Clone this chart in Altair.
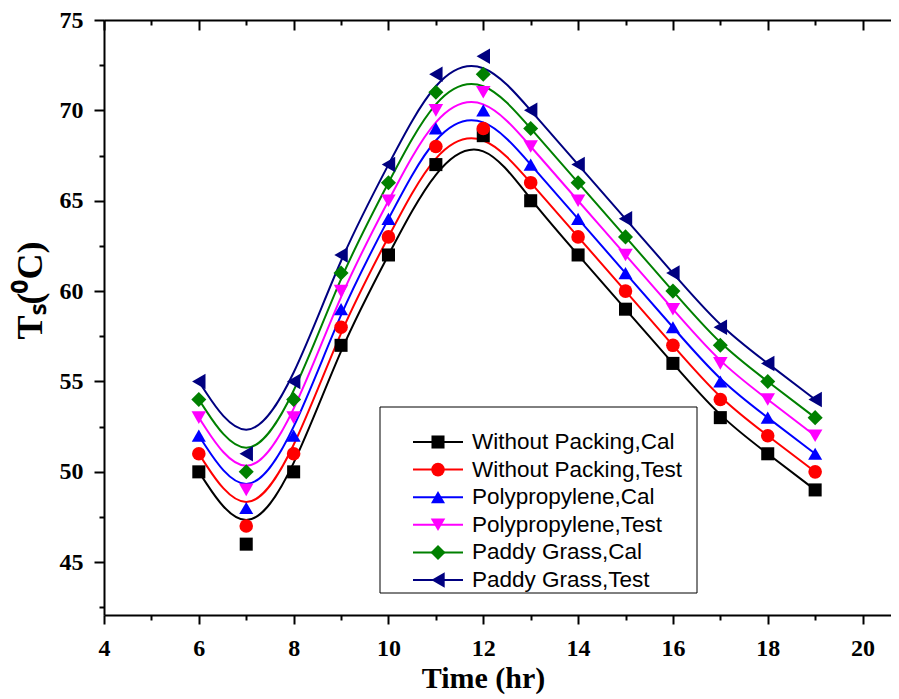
import altair as alt
import pandas as pd

# ---------------- data ----------------
hours = [6, 7, 8, 9, 10, 11, 12, 13, 14, 15, 16, 17, 18, 19]
series_names = [
    "Without Packing,Cal",
    "Without Packing,Test",
    "\u00a0Polypropylene,Cal",
    "Polypropylene,Test",
    "Paddy Grass,Cal",
    "Paddy Grass,Test",
]
wp_cal = [50, 46, 50, 57, 62, 67, 68.6, 65, 62, 59, 56, 53, 51, 49]
wp_test = [51, 47, 51, 58, 63, 68, 69, 66, 63, 60, 57, 54, 52, 50]
pp_cal = [52, 48, 52, 59, 64, 69, 70, 67, 64, 61, 58, 55, 53, 51]
pp_test = [53, 49, 53, 60, 65, 70, 71, 68, 65, 62, 59, 56, 54, 52]
pg_cal = [54, 50, 54, 61, 66, 71, 72, 69, 66, 63, 60, 57, 55, 53]
pg_test = [55, 51, 55, 62, 67, 72, 73, 70, 67, 64, 61, 58, 56, 54]
all_values = [wp_cal, wp_test, pp_cal, pp_test, pg_cal, pg_test]

x_major = [4, 6, 8, 10, 12, 14, 16, 18, 20]
x_minor = [5, 7, 9, 11, 13, 15, 17, 19]
y_major = [45, 50, 55, 60, 65, 70, 75]
y_minor = [42.5, 47.5, 52.5, 57.5, 62.5, 67.5, 72.5]

# ---------------- styling ----------------
colors = ["#000000", "#FF0000", "#0000FF", "#FF00FF", "#008000", "#000080"]
shapes = ["square", "circle", "triangle-up", "triangle-down", "diamond", "triangle-left"]
marker_sizes = [170, 240, 240, 240, 240, 240]

rows = []
for name, vals in zip(series_names, all_values):
    for h, v in zip(hours, vals):
        rows.append({"series": name, "time": h, "temp": v})
df = pd.DataFrame(rows)
legend_df = pd.DataFrame({"series": series_names})
box_df = pd.DataFrame({"box": [0]})

serif = "Liberation Serif"
xs = alt.Scale(domain=[4, 20.6], nice=False, zero=False)
ys = alt.Scale(domain=[42.08, 75], nice=False, zero=False)
color_scale = alt.Scale(domain=series_names, range=colors)
shape_scale = alt.Scale(domain=series_names, range=shapes)
size_scale = alt.Scale(domain=series_names, range=marker_sizes)
# legend rows placed by a point scale (pixel range inside the plot area)
leg_y = alt.Scale(type="point", domain=series_names, range=[422, 560], padding=0)

base_axis = dict(grid=False, domainColor="black", tickColor="black",
                 domainWidth=2, tickWidth=2, labelColor="black", titleColor="black")
minor_axis = dict(grid=False, tickColor="black", tickWidth=2, labels=False,
                  domain=False, title=None)

x_main = alt.Axis(orient="bottom", values=x_major, tickSize=9, format="d",
                  labelFont=serif, labelFontSize=24, labelFontWeight="bold",
                  labelPadding=12, labelFlush=False, labelOverlap=False,
                  title="Time (hr)", titleFont=serif, titleFontSize=30,
                  titleFontWeight="bold", titleX=379, titleY=48, **base_axis)
x_min = alt.Axis(orient="bottom", values=x_minor, tickSize=5, **minor_axis)
x_top_line = alt.Axis(orient="top", ticks=False, labels=False, domain=True,
                      title=None, grid=False, domainColor="black", domainWidth=2)
x_top_major = alt.Axis(orient="top", values=x_major, tickSize=10, offset=-10, **minor_axis)
x_top_minor = alt.Axis(orient="top", values=x_minor, tickSize=5, offset=-5, **minor_axis)

y_main = alt.Axis(orient="left", values=y_major, tickSize=10, format="d",
                  labelFont=serif, labelFontSize=24, labelFontWeight="bold",
                  labelPadding=11, labelFlush=False, labelOverlap=False,
                  title="Tₛ(⁰C)", titleFont=serif, titleFontSize=36,
                  titleFontWeight="bold", titleX=-55, titleY=270, **base_axis)
y_min = alt.Axis(orient="left", values=y_minor, tickSize=5, **minor_axis)

lines = alt.Chart(df).mark_line(interpolate="basis", strokeWidth=2).encode(
    x=alt.X("time:Q", scale=xs, axis=x_main),
    y=alt.Y("temp:Q", scale=ys, axis=y_main),
    color=alt.Color("series:N", scale=color_scale, legend=None),
    detail="series:N",
    order="time:Q",
)

points = alt.Chart(df).mark_point(filled=True, opacity=1).encode(
    x=alt.X("time:Q", scale=xs, axis=x_min),
    y=alt.Y("temp:Q", scale=ys, axis=y_min),
    color=alt.Color("series:N", scale=color_scale, legend=None),
    shape=alt.Shape("series:N", scale=shape_scale, legend=None),
    size=alt.Size("series:N", scale=size_scale, legend=None),
)

# ---------------- legend (box, line, marker, label) ----------------
leg_box = alt.Chart(box_df).mark_rect(fill="white", stroke="black", strokeWidth=1).encode(
    x=alt.value(276), x2=alt.value(593), y=alt.value(387), y2=alt.value(573),
)
leg_lines = alt.Chart(legend_df).mark_rule(strokeWidth=2).encode(
    x=alt.value(309), x2=alt.value(359),
    y=alt.Y("series:N", scale=leg_y, axis=None),
    color=alt.Color("series:N", scale=color_scale, legend=None),
)
leg_marks = alt.Chart(legend_df).mark_point(filled=True, opacity=1).encode(
    x=alt.value(334),
    y=alt.Y("series:N", scale=leg_y, axis=None),
    color=alt.Color("series:N", scale=color_scale, legend=None),
    shape=alt.Shape("series:N", scale=shape_scale, legend=None),
    size=alt.Size("series:N", scale=size_scale, legend=None),
)
leg_text = alt.Chart(legend_df).mark_text(
    align="left", baseline="middle", font="Liberation Sans", fontSize=22.5, color="black"
).encode(
    x=alt.value(368),
    y=alt.Y("series:N", scale=leg_y, axis=None),
    text="series:N",
)

# layers that only carry the top frame line and its inward ticks
top_line_layer = alt.Chart(df).transform_filter("false").mark_point().encode(
    x=alt.X("time:Q", scale=xs, axis=x_top_line),
)
top_major_layer = alt.Chart(df).transform_filter("false").mark_point().encode(
    x=alt.X("time:Q", scale=xs, axis=x_top_major),
)
top_minor_layer = alt.Chart(df).transform_filter("false").mark_point().encode(
    x=alt.X("time:Q", scale=xs, axis=x_top_minor),
)

chart = alt.layer(
    lines, points, top_line_layer, top_major_layer, top_minor_layer,
    leg_box, leg_lines, leg_marks, leg_text,
).resolve_axis(
    x="independent", y="independent"
).resolve_scale(
    y="independent"
).properties(
    width=787, height=595,
    autosize=alt.AutoSizeParams(type="none"),
    padding={"left": 96, "top": 12, "right": 0, "bottom": 82},
    background="white",
).configure_view(strokeWidth=0)

chart.save("out.html", embed_options={"renderer": "svg", "actions": False})
